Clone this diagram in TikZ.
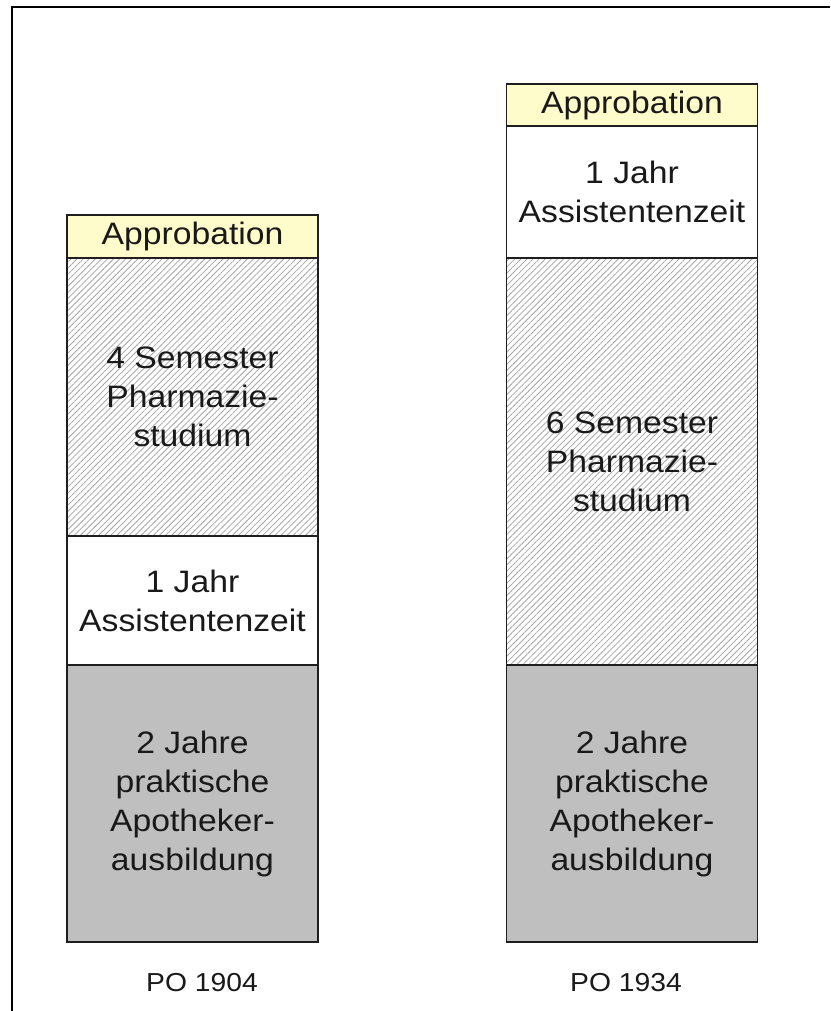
\documentclass[tikz,border=0pt]{standalone}
\usepackage{fontspec}
\setmainfont[FakeStretch=1.087]{Liberation Sans}
\usetikzlibrary{patterns.meta}
\begin{document}
\begin{tikzpicture}[x=1pt,y=-1pt,
  seg/.style={draw=black!88, line width=1.8pt, rectangle, inner sep=0pt,
    minimum width=251pt, align=center, font=\fontsize{31}{39}\selectfont, text=black!90},
  appro/.style={seg, fill=yellow!20},
  hatched/.style={seg, pattern={Lines[angle=45,distance=4.3pt,line width=0.8pt]}, pattern color=black!35},
  plain/.style={seg, fill=white},
  greybox/.style={seg, fill=black!25},
  po/.style={font=\fontsize{26}{30}\selectfont, anchor=base, inner sep=0pt, text=black!90},
  frameline/.style={line width=2.2pt, black}
]
\useasboundingbox (0,0) rectangle (830,1011);
% outer frame
\coordinate (fc) at (12,6.7);
\coordinate (fr) at (830,6.7);
\coordinate (fb) at (12,1011);
\draw[frameline] (fr) -- (fc) -- (fb);

% left column: PO 1904
\node[appro,   minimum height=43pt]  (L1) at (192.5,236.5) {Approbation};
\node[hatched, minimum height=278pt] (L2) at (192.5,397)   {4 Semester\\Pharmazie-\\studium};
\node[plain,   minimum height=129pt] (L3) at (192.5,600.5) {1 Jahr\\Assistentenzeit};
\node[greybox, minimum height=277pt] (L4) at (192.5,803.5) {2 Jahre\\praktische\\Apotheker-\\ausbildung};
\node[po] (poL) at (202,991.7) {PO 1904};

% right column: PO 1934
\node[appro,   minimum height=42pt]  (R1) at (632,105)   {Approbation};
\node[plain,   minimum height=132pt] (R2) at (632,192)   {1 Jahr\\Assistentenzeit};
\node[hatched, minimum height=407pt] (R3) at (632,461.5) {6 Semester\\Pharmazie-\\studium};
\node[greybox, minimum height=277pt] (R4) at (632,803.5) {2 Jahre\\praktische\\Apotheker-\\ausbildung};
\node[po] (poR) at (626,991.7) {PO 1934};
\end{tikzpicture}
\end{document}
